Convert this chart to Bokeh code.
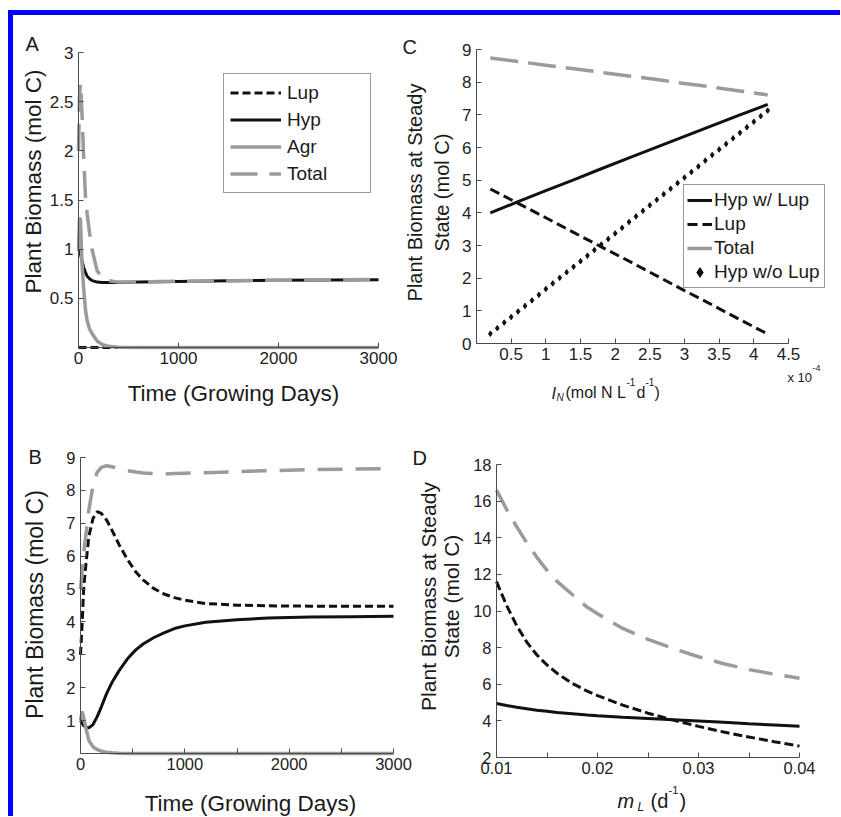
from math import pi
from bokeh.plotting import figure
from bokeh.models import Range1d, FixedTicker, Label, Legend, LegendItem, Div, LinearAxis
from bokeh.layouts import row, column
from bokeh.embed import file_html
from bokeh.resources import INLINE

FONT = "Liberation Sans"
BLACK = "#111111"
GRAY = "#9b9b9b"
AXIS = "#4a4a4a"

# ---------------- Panel A data (time in growing days, biomass mol C)
TA = [0, 10, 20, 35, 50, 70, 87, 110, 137, 187, 237, 300, 400, 600, 1000, 1500, 2000, 2500, 3000]
A_LUP = [0, 0, 0, 0, 0, 0, 0, 0, 0, 0, 0, 0, 0, 0, 0, 0, 0, 0, 0]
A_HYP = [1.0, 0.98, 0.95, 0.88, 0.82, 0.76, 0.725, 0.70, 0.68, 0.665, 0.66, 0.66, 0.662, 0.666, 0.672, 0.678, 0.683, 0.687, 0.69]
A_AGR = [1.0, 1.32, 1.3, 0.85, 0.62, 0.38, 0.27, 0.19, 0.14, 0.065, 0.03, 0.012, 0.003, 0, 0, 0, 0, 0, 0]
A_TOT = [2.0, 2.55, 2.69, 2.38, 1.98, 1.53, 1.36, 1.17, 0.99, 0.78, 0.71, 0.68, 0.665, 0.667, 0.673, 0.679, 0.684, 0.688, 0.691]

# ---------------- Panel B data
TB = [0, 15, 30, 50, 80, 120, 160, 200, 250, 300, 370, 450, 530, 600, 700, 800, 900, 1000, 1200, 1500, 1800, 2200, 2600, 3000]
B_HYP = [1.0, 0.92, 0.85, 0.8, 0.78, 0.88, 1.12, 1.42, 1.82, 2.15, 2.52, 2.88, 3.15, 3.33, 3.52, 3.67, 3.8, 3.88, 3.99, 4.07, 4.12, 4.15, 4.16, 4.17]
B_LUP = [3.0, 3.9, 5.0, 5.7, 6.6, 7.15, 7.35, 7.3, 7.1, 6.8, 6.35, 5.9, 5.52, 5.28, 5.02, 4.85, 4.74, 4.66, 4.56, 4.51, 4.49, 4.48, 4.48, 4.48]
B_AGR = [1.0, 1.28, 1.1, 0.8, 0.4, 0.2, 0.12, 0.07, 0.04, 0.02, 0.01, 0, 0, 0, 0, 0, 0, 0, 0, 0, 0, 0, 0, 0]
B_TOT = [5.0, 5.5, 6.1, 6.6, 7.4, 8.15, 8.55, 8.7, 8.75, 8.72, 8.66, 8.6, 8.56, 8.53, 8.51, 8.5, 8.51, 8.52, 8.54, 8.57, 8.6, 8.63, 8.65, 8.66]

# ---------------- Panel C data (I_N in units of 1e-4 mol N L-1 d-1)
C_IN = [0.2, 0.6, 1.0, 1.4, 1.8, 2.2, 2.6, 3.0, 3.4, 3.8, 4.2]
C_HYP = [4.0, 4.34, 4.68, 5.01, 5.35, 5.68, 6.01, 6.34, 6.67, 7.0, 7.32]
C_LUP = [4.73, 4.29, 3.85, 3.40, 2.96, 2.52, 2.07, 1.62, 1.18, 0.73, 0.29]
C_TOT = [8.74, 8.63, 8.52, 8.41, 8.30, 8.19, 8.08, 7.96, 7.85, 7.73, 7.61]
C_IN_FINE = [0.2, 0.3, 0.4, 0.5, 0.6, 0.7, 0.8, 0.9, 1.0, 1.1, 1.2, 1.3, 1.4, 1.5, 1.6, 1.7, 1.8, 1.9, 2.0, 2.1,
             2.2, 2.3, 2.4, 2.5, 2.6, 2.7, 2.8, 2.9, 3.0, 3.1, 3.2, 3.3, 3.4, 3.5, 3.6, 3.7, 3.8, 3.9, 4.0, 4.1, 4.2]
C_HYP_NOLUP = [0.30, 0.47, 0.64, 0.81, 0.98, 1.15, 1.32, 1.49, 1.67, 1.84, 2.01, 2.18, 2.35, 2.52, 2.69, 2.86,
               3.03, 3.20, 3.37, 3.54, 3.72, 3.89, 4.06, 4.23, 4.40, 4.57, 4.74, 4.91, 5.08, 5.25, 5.42, 5.60,
               5.77, 5.94, 6.11, 6.28, 6.45, 6.62, 6.79, 6.96, 7.13]

# ---------------- Panel D data (m_L in d-1)
D_ML = [0.010, 0.011, 0.012, 0.013, 0.014, 0.015, 0.016, 0.0175, 0.019, 0.020, 0.0225, 0.025, 0.0275, 0.030, 0.0325, 0.035, 0.0375, 0.040]
D_HYP = [4.95, 4.84, 4.74, 4.66, 4.58, 4.52, 4.46, 4.39, 4.32, 4.28, 4.20, 4.13, 4.06, 3.99, 3.92, 3.84, 3.77, 3.70]
D_LUP = [11.6, 10.3, 9.2, 8.3, 7.6, 7.05, 6.6, 6.05, 5.62, 5.38, 4.86, 4.42, 4.04, 3.70, 3.39, 3.12, 2.86, 2.62]
D_TOT = [16.6, 15.55, 14.6, 13.72, 12.93, 12.22, 11.62, 10.9, 10.2, 9.85, 9.05, 8.45, 7.95, 7.5, 7.12, 6.8, 6.55, 6.33]

# ---------------- ticks
A_XT = [0, 1000, 2000, 3000]
A_XL = ["0", "1000", "2000", "3000"]
A_YT = [0.5, 1, 1.5, 2, 2.5, 3]
A_YL = ["0.5", "1", "1.5", "2", "2.5", "3"]
B_XT = [0, 500, 1000, 1500, 2000, 2500, 3000]
B_XL = ["0", "", "1000", "", "2000", "", "3000"]
B_YT = [1, 2, 3, 4, 5, 6, 7, 8, 9]
B_YL = ["1", "2", "3", "4", "5", "6", "7", "8", "9"]
C_XT = [0.5, 1, 1.5, 2, 2.5, 3, 3.5, 4, 4.5]
C_XL = ["0.5", "1", "1.5", "2", "2.5", "3", "3.5", "4", "4.5"]
C_YT = [0, 1, 2, 3, 4, 5, 6, 7, 8, 9]
C_YL = ["0", "1", "2", "3", "4", "5", "6", "7", "8", "9"]
D_XT = [0.01, 0.015, 0.02, 0.025, 0.03, 0.035, 0.04]
D_XL = ["0.01", "", "0.02", "", "0.03", "", "0.04"]
D_YT = [2, 4, 6, 8, 10, 12, 14, 16, 18]
D_YL = ["2", "4", "6", "8", "10", "12", "14", "16", "18"]

# ---------------- page geometry (pixels): the single figure spans FX0..FX1, FY0..FY1
FX0, FY0, FX1, FY1 = 13, 15, 840, 816
FW, FH = FX1 - FX0, FY1 - FY0


def xr_for(d0, d1, px0, px1):
    s = (d1 - d0) / (px1 - px0)
    return Range1d(start=d0 - (px0 - FX0) * s, end=d1 + (FX1 - px1) * s)


def yr_for(v0, v1, py0, py1):
    s = (v1 - v0) / (py0 - py1)
    return Range1d(start=v0 - (FY1 - py0) * s, end=v1 + (py1 - FY0) * s)


p = figure(width=FW, height=FH, x_range=Range1d(0, 1), y_range=Range1d(0, 1),
           x_axis_type=None, y_axis_type=None, output_backend="svg", toolbar_location=None,
           title=None, min_border=0, min_border_left=0, min_border_right=0,
           min_border_top=0, min_border_bottom=0)
p.grid.visible = False
p.outline_line_color = None
p.background_fill_color = "white"
p.border_fill_color = "white"

p.extra_x_ranges = {
    "ax": xr_for(0, 3000, 78, 378), "bx": xr_for(0, 3000, 80, 393),
    "cx": xr_for(0, 4.5, 476, 788), "dx": xr_for(0.01, 0.04, 496, 799),
}
p.extra_y_ranges = {
    "ay": yr_for(0, 3, 347, 52), "by": yr_for(0, 9, 753, 457),
    "cy": yr_for(0, 9, 343, 49), "dy": yr_for(2, 18, 757, 464),
}


def style_axis(ax, tsize, standoff):
    ax.axis_line_color = AXIS
    ax.axis_line_width = 1
    ax.major_tick_line_color = AXIS
    ax.major_tick_in = 5
    ax.major_tick_out = 0
    ax.minor_tick_line_color = None
    ax.major_label_text_font = FONT
    ax.major_label_text_font_size = tsize
    ax.major_label_text_color = "#222222"
    ax.major_label_standoff = standoff


def add_axes(k, x0, y0, xb, yb, xt, xl, yt, yl, tsize):
    xa = LinearAxis(x_range_name=k + "x", y_range_name=k + "y", fixed_location=y0, bounds=xb,
                    ticker=FixedTicker(ticks=xt), major_label_overrides={t: s for t, s in zip(xt, xl)})
    style_axis(xa, tsize, 4)
    p.add_layout(xa, "below")
    ya = LinearAxis(x_range_name=k + "x", y_range_name=k + "y", fixed_location=x0, bounds=yb,
                    ticker=FixedTicker(ticks=yt), major_label_overrides={t: s for t, s in zip(yt, yl)})
    style_axis(ya, tsize, 5)
    p.add_layout(ya, "left")


def txt(X, Y, text, size, angle=0.0, align="left", baseline="alphabetic", style="normal"):
    p.add_layout(Label(x=X - FX0, y=FY1 - Y, x_units="screen", y_units="screen", text=text,
                       text_font=FONT, text_font_size=size, text_font_style=style,
                       text_color="#1a1a1a", angle=angle, text_align=align, text_baseline=baseline))


def legend(items, left, bottom, pad, spacing, gw, gh, lw, standoff, fsize):
    lg = Legend(items=items, location=(left - FX0, FY1 - bottom), padding=pad, spacing=spacing, margin=0,
                glyph_width=gw, glyph_height=gh, label_height=gh, label_width=lw,
                label_standoff=standoff, label_text_font=FONT, label_text_font_size=fsize,
                label_text_color="#1a1a1a", border_line_color="#333333", border_line_width=1,
                background_fill_color="white", background_fill_alpha=1.0)
    p.add_layout(lg)


# ================= Panel A =================
add_axes("a", 0, 0, (0, 3000), (0, 3), A_XT, A_XL, A_YT, A_YL, "17px")
kw = dict(x_range_name="ax", y_range_name="ay")
ra1 = p.line(TA, A_LUP, line_color=BLACK, line_width=3, line_dash="8 4", **kw)
ra2 = p.line(TA, A_HYP, line_color=BLACK, line_width=3, **kw)
ra3 = p.line(TA, A_AGR, line_color=GRAY, line_width=3.5, **kw)
ra4 = p.line(TA, A_TOT, line_color=GRAY, line_width=3.5, line_dash="27 12", **kw)
legend([LegendItem(label="Lup", renderers=[ra1]), LegendItem(label="Hyp", renderers=[ra2]),
        LegendItem(label="Agr", renderers=[ra3]), LegendItem(label="Total", renderers=[ra4])],
       223, 193, 6, 2, 51, 25, 77, 6, "19px")
txt(25, 43, "A", "20px")
txt(33, 181, "Plant Biomass (mol C)", "22.5px", angle=pi / 2, align="center", baseline="middle")
txt(233, 393, "Time (Growing Days)", "22.5px", align="center")

# ================= Panel C =================
add_axes("c", 0, 0, (0, 4.5), (0, 9), C_XT, C_XL, C_YT, C_YL, "17px")
kw = dict(x_range_name="cx", y_range_name="cy")
rc1 = p.line(C_IN, C_HYP, line_color=BLACK, line_width=3, **kw)
rc2 = p.line(C_IN, C_LUP, line_color=BLACK, line_width=3, line_dash="10 5", **kw)
rc3 = p.line(C_IN, C_TOT, line_color=GRAY, line_width=3.5, line_dash="28 10", **kw)
rc4 = p.scatter(C_IN_FINE, C_HYP_NOLUP, marker="diamond", size=5.5, color=BLACK, **kw)
legend([LegendItem(label="Hyp w/ Lup", renderers=[rc1]), LegendItem(label="Lup", renderers=[rc2]),
        LegendItem(label="Total", renderers=[rc3]), LegendItem(label="Hyp w/o Lup", renderers=[rc4])],
       683, 288, 3, 0, 25, 24, 107, 2, "19px")
txt(402, 46, "C", "20px")
txt(414, 192, "Plant Biomass at Steady", "20px", angle=pi / 2, align="center", baseline="middle")
txt(441, 192, "State (mol C)", "20px", angle=pi / 2, align="center", baseline="middle")
txt(551, 392, "I", "16.5px", style="italic")
txt(556, 397, "N", "10px", style="italic")
txt(565, 392, "(mol N L", "16px")
txt(626, 381, "-1", "10px")
txt(636, 392, "d", "16px")
txt(645, 381, "-1", "10px")
txt(654, 392, ")", "16px")
txt(787, 377, "x 10", "13px")
txt(812, 367, "-4", "9px")

# ================= Panel B =================
add_axes("b", 0, 0, (0, 3000), (0, 9), B_XT, B_XL, B_YT, B_YL, "16.5px")
kw = dict(x_range_name="bx", y_range_name="by")
p.line(TB, B_LUP, line_color=BLACK, line_width=3, line_dash="8 4", **kw)
p.line(TB, B_HYP, line_color=BLACK, line_width=3, **kw)
p.line(TB, B_AGR, line_color=GRAY, line_width=3.5, **kw)
p.line(TB, B_TOT, line_color=GRAY, line_width=3.5, line_dash="25 13", **kw)
txt(28, 456, "B", "20px")
txt(34, 604, "Plant Biomass (mol C)", "23px", angle=pi / 2, align="center", baseline="middle")
txt(250, 803, "Time (Growing Days)", "22.5px", align="center")

# ================= Panel D =================
add_axes("d", 0.01, 2, (0.01, 0.04), (2, 18), D_XT, D_XL, D_YT, D_YL, "16.5px")
kw = dict(x_range_name="dx", y_range_name="dy")
p.line(D_ML, D_HYP, line_color=BLACK, line_width=3, **kw)
p.line(D_ML, D_LUP, line_color=BLACK, line_width=3, line_dash="9 4", **kw)
p.line(D_ML, D_TOT, line_color=GRAY, line_width=3.5, line_dash="24 12", **kw)
txt(412, 457, "D", "20px")
txt(428, 596, "Plant Biomass at Steady", "21px", angle=pi / 2, align="center", baseline="middle")
txt(451, 596, "State (mol C)", "21px", angle=pi / 2, align="center", baseline="middle")
txt(617, 800, "m", "20px", style="italic")
txt(637, 806, "L", "12px", style="italic")
txt(650, 800, "(d", "20px")
txt(668, 789, "-1", "11px")
txt(679, 800, ")", "20px")

# ================= layout with blue frame =================
topbar = Div(text="", width=FX1 - 8, height=5, margin=(10, 0, 0, 8), styles={"background-color": "#0000ff"})
leftbar = Div(text="", width=5, height=FH, margin=(0, 0, 0, 8), styles={"background-color": "#0000ff"})
layout = column(topbar, row(leftbar, p, spacing=0), spacing=0)

open("out.html", "w").write(file_html(layout, INLINE))
